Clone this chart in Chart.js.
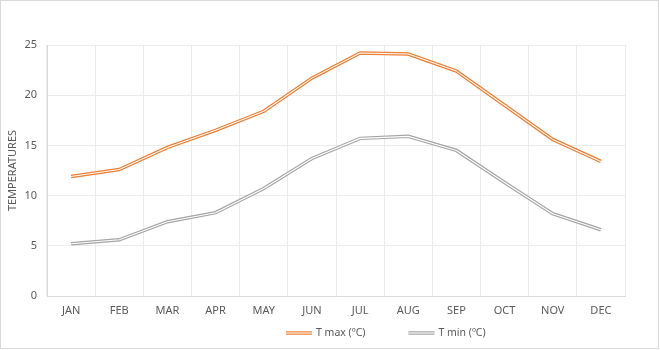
<!DOCTYPE html>
<html>
<head>
<meta charset="utf-8">
<script src="https://cdn.jsdelivr.net/npm/chart.js@4"></script>
<style>
  html, body { margin: 0; padding: 0; background: #fff; }
  #wrap { width: 660px; height: 350px; }
</style>
</head>
<body>
<div id="wrap"><canvas id="myChart" width="660" height="350"></canvas></div>
<script>
var months = ['JAN', 'FEB', 'MAR', 'APR', 'MAY', 'JUN', 'JUL', 'AUG', 'SEP', 'OCT', 'NOV', 'DEC'];
var tMax = [11.9, 12.6, 14.8, 16.5, 18.4, 21.7, 24.2, 24.1, 22.4, 19.0, 15.6, 13.4];
var tMin = [5.2, 5.6, 7.4, 8.3, 10.7, 13.7, 15.7, 15.9, 14.5, 11.3, 8.2, 6.6];
var yTicks = [0, 5, 10, 15, 20, 25];

var orange = '#ED7D31';
var grey = '#A5A5A5';
var textColor = '#595959';
var fontFamily = '"Noto Sans", "DejaVu Sans", sans-serif';

// draws a double line: coloured stroke with a thin white stripe down the middle
function strokeDouble(ctx, pts, color) {
  ctx.save();
  ctx.lineJoin = 'round';
  ctx.strokeStyle = color;
  ctx.lineWidth = 3.5;
  ctx.beginPath();
  pts.forEach(function (p, j) { if (j === 0) ctx.moveTo(p.x, p.y); else ctx.lineTo(p.x, p.y); });
  ctx.stroke();
  ctx.strokeStyle = '#fff';
  ctx.lineWidth = 1.1;
  ctx.stroke();
  ctx.restore();
}

// white stripe through each dataset line
var doubleLine = {
  id: 'doubleLine',
  afterDatasetsDraw: function (chart) {
    var ctx = chart.ctx;
    chart.data.datasets.forEach(function (ds, i) {
      var meta = chart.getDatasetMeta(i);
      if (meta.hidden) return;
      ctx.save();
      ctx.strokeStyle = '#fff';
      ctx.lineWidth = 1.1;
      ctx.lineJoin = 'round';
      ctx.beginPath();
      meta.data.forEach(function (pt, j) {
        if (j === 0) ctx.moveTo(pt.x, pt.y); else ctx.lineTo(pt.x, pt.y);
      });
      ctx.stroke();
      ctx.restore();
    });
  }
};

// legend row under the axis, swatches drawn as double lines
var bottomLegend = {
  id: 'bottomLegend',
  afterDraw: function (chart) {
    var ctx = chart.ctx;
    var sw = 26, gapText = 4, gapItem = 43, y = 333;
    ctx.save();
    ctx.font = '10.5px ' + fontFamily;
    ctx.textBaseline = 'middle';
    var x = 286;
    chart.data.datasets.forEach(function (ds) {
      var w = sw + gapText + ctx.measureText(ds.label).width;
      strokeDouble(ctx, [{ x: x, y: y }, { x: x + sw, y: y }], ds.borderColor);
      ctx.fillStyle = textColor;
      ctx.fillText(ds.label, x + sw + gapText, y + 0.5);
      x += w + gapItem;
    });
    ctx.restore();
  }
};

// white background + thin frame around the whole chart
var frame = {
  id: 'frame',
  beforeDraw: function (chart) {
    var ctx = chart.ctx;
    ctx.save();
    ctx.fillStyle = '#fff';
    ctx.fillRect(0, 0, chart.width, chart.height);
    ctx.strokeStyle = '#d9d9d9';
    ctx.lineWidth = 1;
    ctx.strokeRect(0.5, 0.5, chart.width - 2, chart.height - 2);
    ctx.restore();
  }
};

var ctx = document.getElementById('myChart').getContext('2d');
var myChart = new Chart(ctx, {
  type: 'line',
  data: {
    labels: months,
    datasets: [{
      label: 'T max (ºC)',
      data: tMax,
      borderColor: orange,
      backgroundColor: orange,
      borderWidth: 3.5,
      pointRadius: 0,
      tension: 0
    }, {
      label: 'T min (ºC)',
      data: tMin,
      borderColor: grey,
      backgroundColor: grey,
      borderWidth: 3.5,
      pointRadius: 0,
      tension: 0
    }]
  },
  plugins: [frame, doubleLine, bottomLegend],
  options: {
    responsive: false,
    animation: false,
    layout: { padding: { top: 45, right: 35, left: 6, bottom: 29 } },
    plugins: {
      tooltip: { enabled: false },
      legend: { display: false }
    },
    scales: {
      x: {
        offset: true,
        afterFit: function (scale) { scale.height = 25; },
        grid: { offset: true, color: '#ebebeb', drawTicks: false },
        border: { color: '#d9d9d9' },
        ticks: { color: textColor, font: { family: fontFamily, size: 11 }, padding: 8 }
      },
      y: {
        min: 0,
        max: 25,
        afterBuildTicks: function (scale) {
          scale.ticks = yTicks.map(function (v) { return { value: v }; });
        },
        afterFit: function (scale) { scale.width = 41; },
        grid: { color: '#ebebeb', drawTicks: false },
        border: { color: '#d9d9d9' },
        ticks: { color: textColor, font: { family: fontFamily, size: 11 }, padding: 10 },
        title: {
          display: true,
          text: 'TEMPERATURES',
          color: textColor,
          font: { family: fontFamily, size: 11 },
          padding: 0
        }
      }
    }
  }
});
</script>
</body>
</html>
